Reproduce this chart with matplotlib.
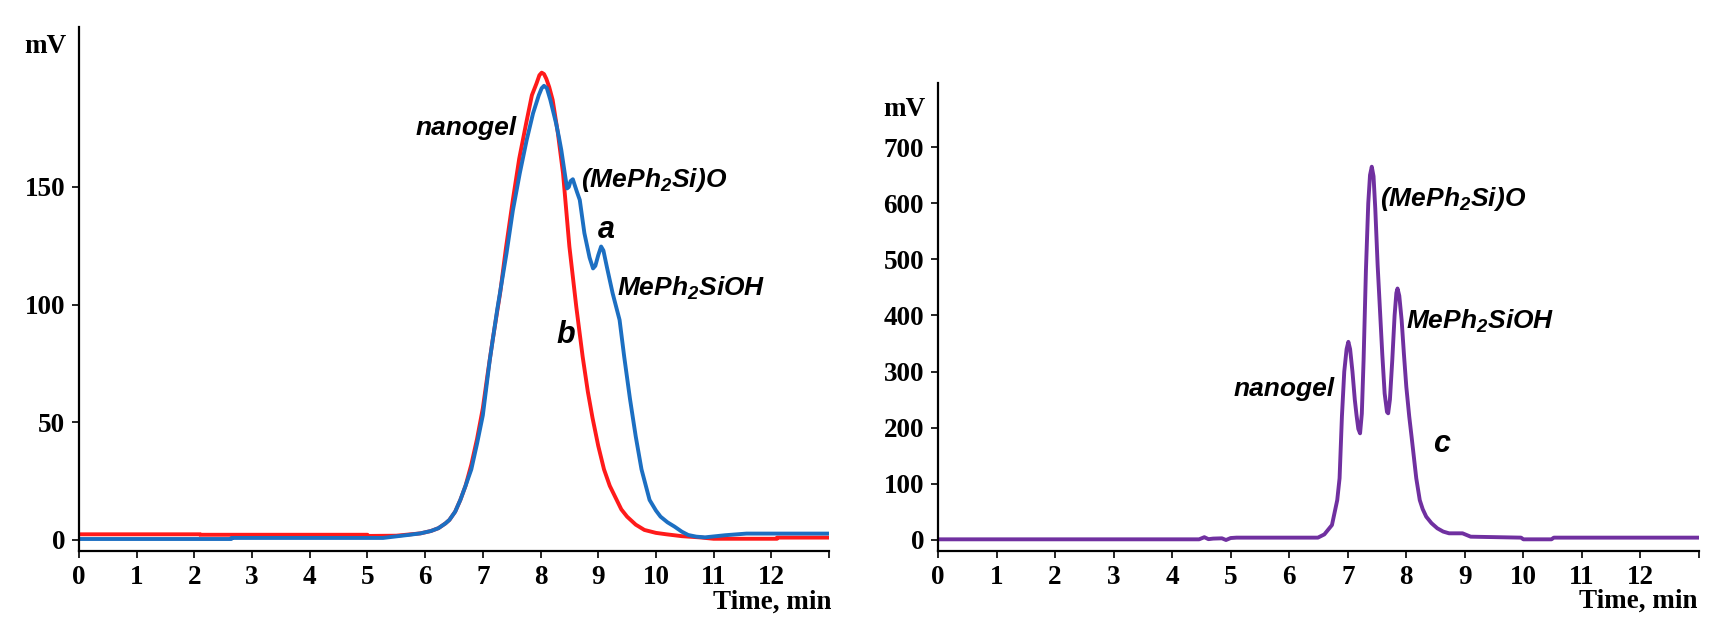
import matplotlib
matplotlib.use("Agg")
import matplotlib.pyplot as plt
from matplotlib.font_manager import FontProperties

# ---- data ------------------------------------------------------------------
# left panel, curve b (red)
red_t = [0, 2.1, 2.1, 5.0, 5.0, 5.5, 5.92, 6.1, 6.23, 6.35, 6.42, 6.52, 6.61,
         6.7, 6.8, 6.9, 7.0, 7.08, 7.17, 7.3, 7.4, 7.52, 7.63, 7.75, 7.85,
         7.93, 7.98, 8.02, 8.06, 8.1, 8.15, 8.21, 8.3, 8.39, 8.5, 8.62, 8.73,
         8.82, 8.9, 9.0, 9.1, 9.2, 9.32, 9.4, 9.5, 9.65, 9.8, 10.0, 10.18,
         10.45, 10.75, 11.0, 12.1, 12.1, 13.0]
red_v = [2.4, 2.4, 2.2, 2.2, 1.7, 1.8, 2.8, 3.8, 5.0, 7.0, 8.5, 12, 17,
         23, 32, 43, 56, 70, 85, 105, 124, 144.5, 162, 177, 189,
         194, 197.5, 198.6, 198, 196, 192.5, 187, 173, 155.8, 124.7, 99, 77.9,
         63, 52, 40, 30, 23, 17, 13, 9.9, 6.5, 4.25, 3.0, 2.4,
         1.6, 1.1, 0.5, 0.5, 1.0, 1.0]

# left panel, curve a (blue)
blue_t = [0, 2.64, 2.64, 5.27, 5.7, 5.92, 6.1, 6.23, 6.35, 6.42, 6.52, 6.61,
          6.7, 6.8, 6.9, 7.0, 7.12, 7.25, 7.41, 7.52, 7.64, 7.76, 7.87, 7.97,
          8.02, 8.06, 8.11, 8.17, 8.22, 8.27, 8.32, 8.36, 8.42, 8.46, 8.49,
          8.52, 8.56, 8.59, 8.63, 8.68, 8.76, 8.85, 8.91, 8.95, 9.0, 9.05,
          9.09, 9.15, 9.25, 9.37, 9.45, 9.55, 9.65, 9.75, 9.89, 10.0, 10.08,
          10.2, 10.32, 10.45, 10.56, 10.7, 10.85, 11.2, 11.57, 13.0]
blue_v = [0.4, 0.4, 0.85, 0.85, 2.1, 2.8, 3.8, 5.0, 7.0, 8.5, 12, 17,
          23, 30, 41, 53, 76.5, 98, 121.8, 140, 155.8, 170, 181.3, 189,
          192, 193, 192, 187, 182, 177, 171, 165.7, 155.8, 149.4, 150,
          152.5, 153.3, 151, 148, 144.5, 130.4, 120, 115.4, 116.5, 121, 124.7,
          123, 116, 104.8, 93.5, 77.9, 60, 44, 30, 17, 12.5, 9.9,
          7.5, 5.7, 3.5, 2.1, 1.4, 1.1, 2.0, 2.7, 2.7]

# right panel, curve c (purple)
purple_t = [0.04, 4.46, 4.55, 4.62, 4.7, 4.85, 4.92, 5.0, 5.1, 6.49, 6.6,
            6.73, 6.82, 6.86, 6.9, 6.94, 6.98, 7.01, 7.04, 7.08, 7.12, 7.15,
            7.18, 7.21, 7.24, 7.27, 7.31, 7.35, 7.38, 7.41, 7.44, 7.47, 7.51,
            7.55, 7.59, 7.63, 7.67, 7.69, 7.72, 7.76, 7.80, 7.83, 7.85, 7.88,
            7.92, 7.96, 8.0, 8.05, 8.09, 8.17, 8.23, 8.28, 8.34, 8.43, 8.53,
            8.63, 8.73, 8.96, 9.1, 9.96, 10.0, 10.48, 10.52, 13.04]
purple_v = [1.2, 1.2, 5, 1.5, 2.5, 3, 0, 3.5, 4.2, 4.2, 10,
            26.7, 71, 110, 220, 300, 340, 353, 340, 300, 250, 222,
            198, 190, 225, 320, 480, 600, 650, 665, 648, 590, 490,
            410, 330, 261, 228, 225.7, 250, 320, 400, 440, 448, 435,
            392, 330, 273, 220, 184, 110, 71, 55, 41.6, 30, 20.8,
            15, 11.9, 11.9, 5.9, 4.2, 1.2, 1.2, 4.2, 4.2]

x_ticks = list(range(14))
x_ticklabels = [str(i) for i in range(13)] + [""]
left_yticks = [0, 50, 100, 150]
right_yticks = [0, 100, 200, 300, 400, 500, 600, 700]

# ---- styling ---------------------------------------------------------------
plt.rcParams["mathtext.default"] = "regular"
tick_font = dict(family="Liberation Serif", weight="bold", size=19.5)
note_font = dict(family="Liberation Sans", weight="bold", style="italic", size=19)
letter_font = dict(family="Liberation Sans", weight="bold", style="italic", size=22)

fig = plt.figure(figsize=(17.31, 6.24), dpi=100)
ax_l = fig.add_axes([79 / 1731, 73 / 624, 750 / 1731, 524 / 624])
ax_r = fig.add_axes([938 / 1731, 73 / 624, 761 / 1731, 468.3 / 624])


def style_axes(ax, yticks, ylim):
    ax.set_xlim(0, 13)
    ax.set_ylim(*ylim)
    for side in ("top", "right"):
        ax.spines[side].set_visible(False)
    for side in ("left", "bottom"):
        ax.spines[side].set_linewidth(1.6)
    ax.set_xticks(x_ticks)
    ax.set_xticklabels(x_ticklabels)
    ax.set_yticks(yticks)
    ax.tick_params(direction="out", length=5, width=1.2, pad=5)
    for lab in ax.get_xticklabels() + ax.get_yticklabels():
        lab.set_fontproperties(FontProperties(**tick_font))


# left panel
ax_l.plot(red_t, red_v, color="#FF1A1A", lw=2.8, solid_joinstyle="round")
ax_l.plot(blue_t, blue_v, color="#1C6FC2", lw=2.8, solid_joinstyle="round")
style_axes(ax_l, left_yticks, (-4.7, 218))

ax_l.text(7.58, 172, "nanogel", ha="right", va="baseline", **note_font)
ax_l.text(8.70, 150, "(MePh$_2$Si)O", ha="left", va="baseline", **note_font)
ax_l.text(8.99, 128.5, "a", ha="left", va="baseline", **letter_font)
ax_l.text(9.33, 103.7, "MePh$_2$SiOH", ha="left", va="baseline", **note_font)
ax_l.text(8.27, 83.9, "b", ha="left", va="baseline", **letter_font)

# right panel
ax_r.plot(purple_t, purple_v, color="#7030A0", lw=2.8, solid_joinstyle="round")
style_axes(ax_r, right_yticks, (-19.6, 814.6))

ax_r.text(7.55, 595, "(MePh$_2$Si)O", ha="left", va="baseline", **note_font)
ax_r.text(8.0, 376, "MePh$_2$SiOH", ha="left", va="baseline", **note_font)
ax_r.text(6.78, 256.5, "nanogel", ha="right", va="baseline", **note_font)
ax_r.text(8.45, 157, "c", ha="left", va="baseline", **letter_font)

# axis titles placed like the original (outside the axes)
fig.text(45 / 1731, 1 - 53 / 624, "mV", ha="center", va="baseline", **tick_font)
fig.text(904 / 1731, 1 - 116 / 624, "mV", ha="center", va="baseline", **tick_font)
fig.text(831 / 1731, 1 - 609 / 624, "Time, min", ha="right", va="baseline", **tick_font)
fig.text(1697 / 1731, 1 - 608 / 624, "Time, min", ha="right", va="baseline", **tick_font)

fig.savefig("out.png", dpi=100)
